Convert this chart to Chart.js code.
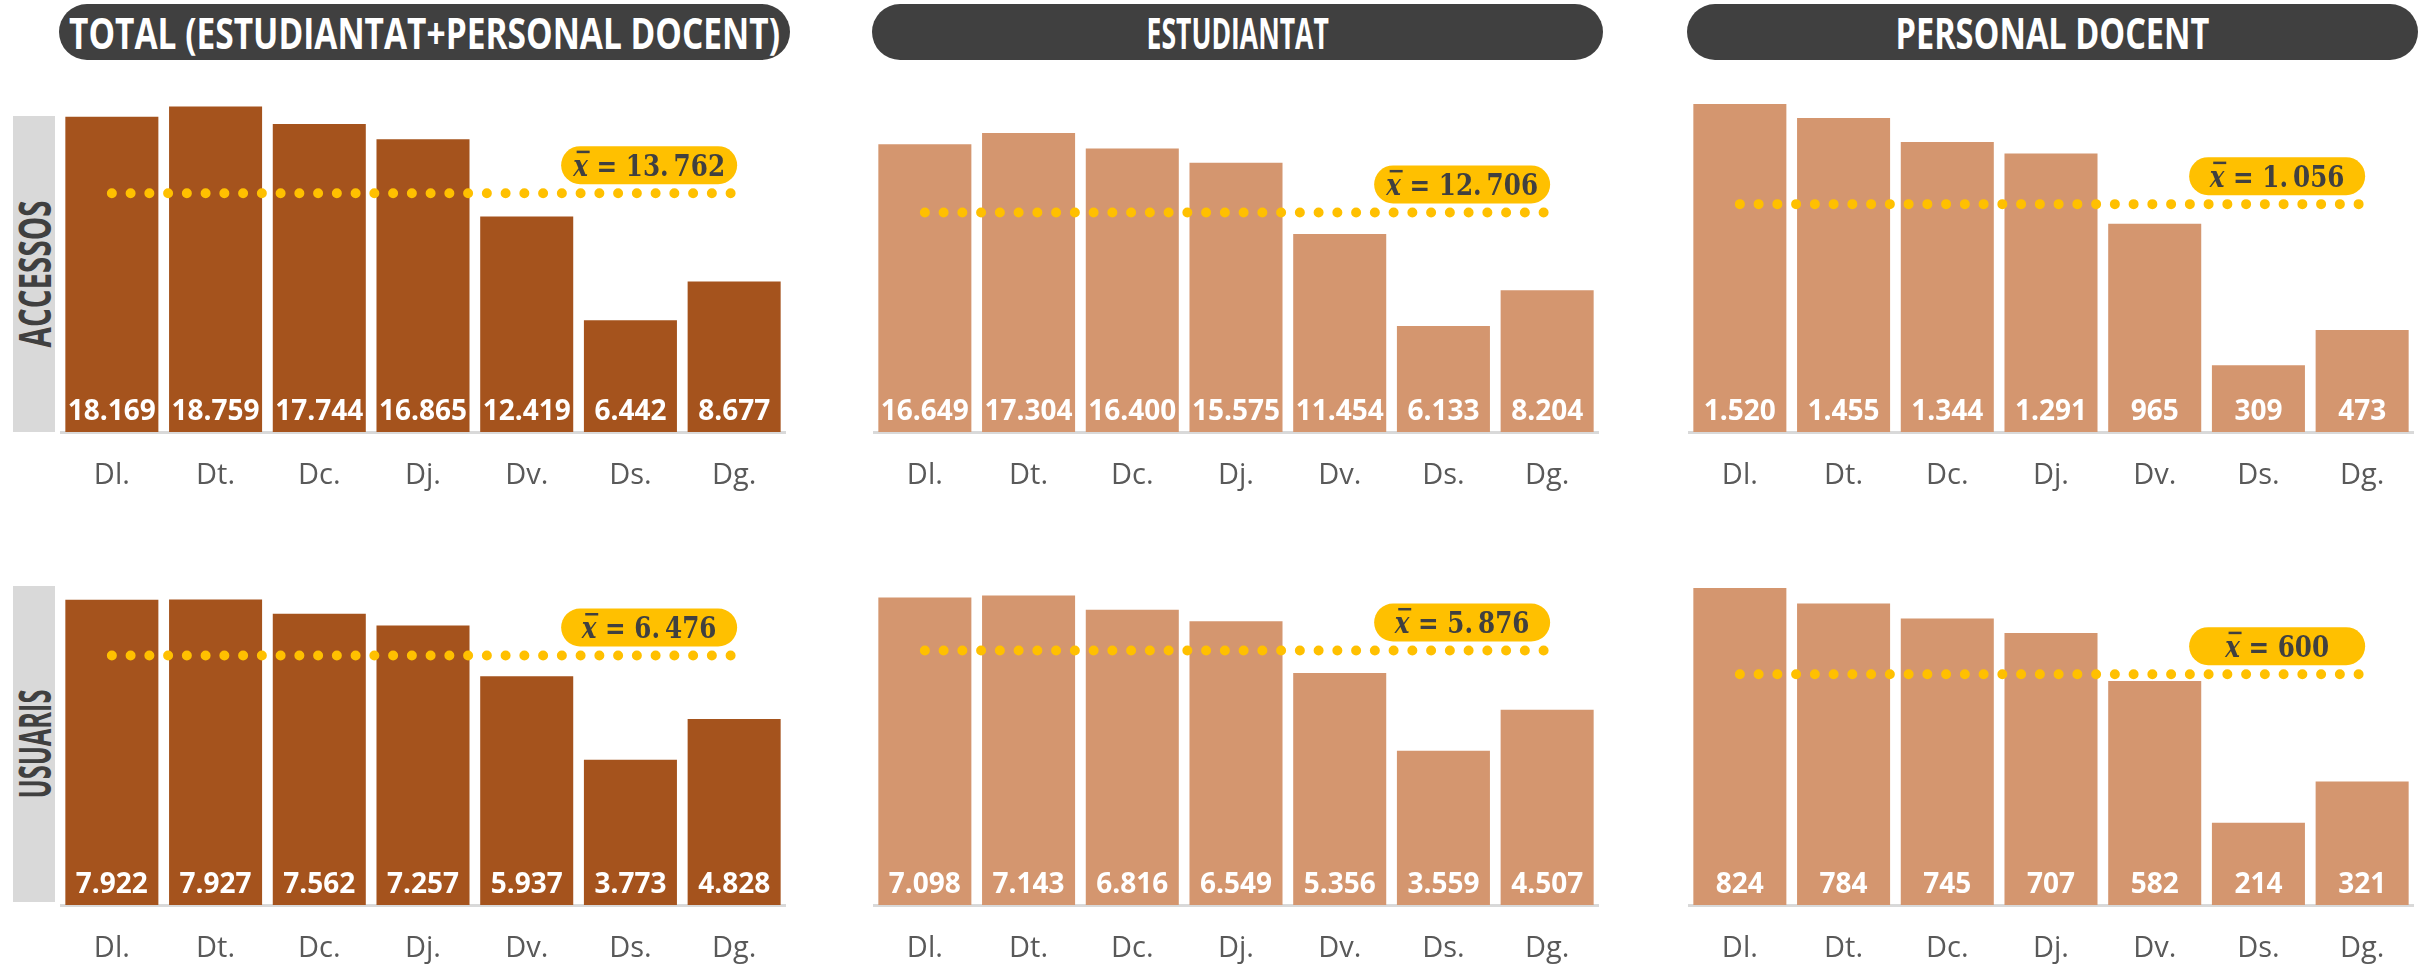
<!DOCTYPE html>
<html>
<head>
<meta charset="utf-8">
<script src="https://cdn.jsdelivr.net/npm/chart.js@4.4.0/dist/chart.umd.min.js"></script>
<style>
body{margin:0;width:2420px;height:966px;position:relative;background:#fff;overflow:hidden;font-family:'Open Sans',sans-serif}
.pill{position:absolute;top:4px;width:731px;height:56px;border-radius:28px;background:#404040;display:flex;align-items:center;justify-content:center}
.pill span{display:inline-block;white-space:nowrap;color:#fff;font-weight:bold;font-size:43px;line-height:1}
.side{position:absolute;left:13px;width:42px;height:316px;background:#d9d9d9}
.side span{position:absolute;left:50%;top:50%;white-space:nowrap;color:#404040;font-weight:bold;font-size:44px;line-height:1}
canvas{position:absolute}
</style>
</head>
<body>
<div id="root"></div>
<script>
// dades
var days = ['Dl.', 'Dt.', 'Dc.', 'Dj.', 'Dv.', 'Ds.', 'Dg.'];
var accTotal = [18169, 18759, 17744, 16865, 12419, 6442, 8677];
var accEst   = [16649, 17304, 16400, 15575, 11454, 6133, 8204];
var accPdi   = [1520, 1455, 1344, 1291, 965, 309, 473];
var usuTotal = [7922, 7927, 7562, 7257, 5937, 3773, 4828];
var usuEst   = [7098, 7143, 6816, 6549, 5356, 3559, 4507];
var usuPdi   = [824, 784, 745, 707, 582, 214, 321];
var meanAcc = [13762, 12706, 1056];
var meanUsu = [6476, 5876, 600];
var maxAcc = [18900, 18980, 1520];
var maxUsu = [8228, 7318, 824];
var titles = ['TOTAL (ESTUDIANTAT+PERSONAL DOCENT)', 'ESTUDIANTAT', 'PERSONAL DOCENT'];
var rowNames = ['ACCESSOS', 'USUARIS'];

var titleW = [711, 182, 314];
var sideW = [147, 109];
var lefts = [60, 873, 1688];
var pillLefts = [59, 872, 1687];
var dark = '#A5531D', light = '#D4966F';

function fmt(v){ return String(v).replace(/\B(?=(\d{3})+(?!\d))/g, '.'); }

var root = document.getElementById('root');

for (var i = 0; i < 3; i++) {
  var p = document.createElement('div');
  p.className = 'pill';
  p.style.left = pillLefts[i] + 'px';
  var s = document.createElement('span');
  s.textContent = titles[i];
  p.appendChild(s);
  root.appendChild(p);
  s.style.transform = 'scaleX(' + (titleW[i] / s.offsetWidth) + ')';
}

var sideTops = [116, 586];
for (var r = 0; r < 2; r++) {
  var b = document.createElement('div');
  b.className = 'side';
  b.style.top = sideTops[r] + 'px';
  var t = document.createElement('span');
  t.textContent = rowNames[r];
  b.appendChild(t);
  root.appendChild(b);
  t.style.transform = 'translate(-50%,-50%) rotate(-90deg) scaleX(' + (sideW[r] / t.offsetWidth) + ')';
}

var labelPlugin = {
  id: 'labels',
  afterDatasetsDraw: function(chart) {
    var ctx = chart.ctx;
    var bars = chart.getDatasetMeta(0).data;
    var vals = chart.data.datasets[0].data;
    ctx.save();
    ctx.fillStyle = '#fff';
    ctx.font = 'bold 28px "Open Sans"';
    ctx.textAlign = 'center';
    ctx.textBaseline = 'alphabetic';
    for (var i = 0; i < bars.length; i++) {
      ctx.fillText(fmt(vals[i]), bars[i].x, bars[i].base - 12);
    }
    // etiqueta de la mitjana
    var pts = chart.getDatasetMeta(1).data;
    var last = pts[pts.length - 1];
    var m = chart.data.datasets[1].data[0].y;
    var w = 176, h = 38;
    var right = last.x + 3, bottom = last.y - 9;
    ctx.fillStyle = '#FFC000';
    ctx.beginPath();
    ctx.roundRect(right - w, bottom - h, w, h, h / 2);
    ctx.fill();
    var fx = 'italic bold 29px "DejaVu Serif"';
    var fn = 'bold 29px "DejaVu Serif"';
    var rest = ' = ' + fmt(m).replace('.', '.\u2009');
    var sx = 0.85;
    ctx.font = fx; var wx = ctx.measureText('x').width;
    ctx.font = fn; var wr = ctx.measureText(rest).width;
    var cx = right - w / 2;
    var yb = bottom - h / 2 + 10.5;
    ctx.translate(cx, 0);
    ctx.scale(sx, 1);
    var x0 = -(wx + wr) / 2;
    ctx.fillStyle = '#404040';
    ctx.textAlign = 'left';
    ctx.font = fx; ctx.fillText('x', x0, yb);
    ctx.fillRect(x0 + 4, yb - 25, wx - 2, 2.5);
    ctx.font = fn; ctx.fillText(rest, x0 + wx, yb);
    ctx.restore();
  }
};

function makeChart(left, top, height, axisH, vals, mean, max, color) {
  var c = document.createElement('canvas');
  c.width = 726; c.height = height;
  c.style.left = left + 'px'; c.style.top = top + 'px';
  root.appendChild(c);
  new Chart(c, {
    data: {
      labels: days,
      datasets: [
        {type: 'bar', data: vals, backgroundColor: color, categoryPercentage: 1, barPercentage: 0.897, order: 1},
        {type: 'line', data: [{x: days[0], y: mean}, {x: days[days.length - 1], y: mean}],
         borderColor: '#FFC000', borderWidth: 10, borderDash: [0, 18.75], borderCapStyle: 'round',
         pointRadius: 0, fill: false, order: 0}
      ]
    },
    options: {
      responsive: false, animation: false, events: [],
      layout: {padding: {top: 4, left: 0, right: 0, bottom: 0}},
      plugins: {legend: {display: false}, tooltip: {enabled: false}},
      scales: {
        x: {
          grid: {display: false},
          border: {display: true, color: '#d9d9d9', width: 3},
          ticks: {color: '#595959', font: {family: "'Open Sans'", size: 29}, padding: 18},
          afterFit: function(s) { s.height = axisH; }
        },
        y: {display: false, min: 0, max: max}
      }
    },
    plugins: [labelPlugin]
  });
}

var rowAcc = [accTotal, accEst, accPdi];
var rowUsu = [usuTotal, usuEst, usuPdi];
for (var k = 0; k < 3; k++) {
  var col = k === 0 ? dark : light;
  makeChart(lefts[k], 100, 400, 68, rowAcc[k], meanAcc[k], maxAcc[k], col);
  makeChart(lefts[k], 584, 382, 61, rowUsu[k], meanUsu[k], maxUsu[k], col);
}
</script>
</body>
</html>
